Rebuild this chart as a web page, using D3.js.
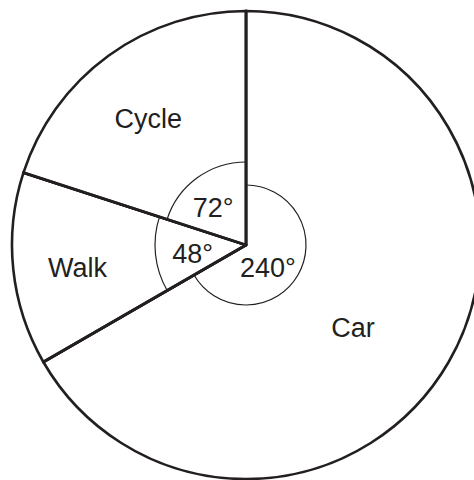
<!DOCTYPE html>
<html>
<head>
<meta charset="utf-8">
<script src="https://cdn.jsdelivr.net/npm/d3@7"></script>
<style>
  html, body { margin: 0; padding: 0; background: #fff; }
  svg { display: block; }
  text { font-family: "Liberation Sans", Arial, Helvetica, sans-serif; fill: #231f20; }
</style>
</head>
<body>
<svg></svg>
<script>
// data (slice order clockwise from the top)
const categories = ["Car", "Walk", "Cycle"];
const angles = [240, 48, 72];
const angleLabels = ["240°", "48°", "72°"];

document.addEventListener('DOMContentLoaded', function() {
    const width = 474, height = 480;
    const cx = 246, cy = 245;
    const radius = 234;

    const svg = d3.select("svg")
        .attr("width", width)
        .attr("height", height);

    const g = svg.append("g").attr("transform", `translate(${cx}, ${cy})`);

    const rows = categories.map((c, i) => ({ name: c, value: angles[i], label: angleLabels[i] }));

    const pie = d3.pie()
        .sort(null)
        .value(d => d.value);
    const arcs = pie(rows);

    const arc = d3.arc().innerRadius(0).outerRadius(radius);

    // slices
    g.selectAll(".slice")
        .data(arcs)
        .enter().append("path")
        .attr("class", "slice")
        .attr("d", arc)
        .attr("fill", "#fff")
        .attr("stroke", "#231f20")
        .attr("stroke-width", 2.6)
        .attr("stroke-linejoin", "round");

    // small angle arcs at the centre
    const markRadius = { Car: 60, Walk: 91, Cycle: 83 };
    g.selectAll(".mark")
        .data(arcs)
        .enter().append("path")
        .attr("class", "mark")
        .attr("d", d => d3.arc().innerRadius(markRadius[d.data.name]).outerRadius(markRadius[d.data.name])(d))
        .attr("fill", "none")
        .attr("stroke", "#231f20")
        .attr("stroke-width", 1.2);

    // redraw the radial lines on top
    g.selectAll(".spoke")
        .data(arcs)
        .enter().append("line")
        .attr("class", "spoke")
        .attr("x1", 0).attr("y1", 0)
        .attr("x2", d => d3.pointRadial(d.startAngle, radius)[0])
        .attr("y2", d => d3.pointRadial(d.startAngle, radius)[1])
        .attr("stroke", "#231f20")
        .attr("stroke-width", 2.8)
        .attr("stroke-linecap", "round");

    // category names: [angle offset in degrees from slice middle, radius]
    const namePos = { Car: [7.5, 135], Walk: [-1.4, 170], Cycle: [-1.7, 160] };
    const degPos = { Car: [15, 31], Walk: [-2.6, 54], Cycle: [-5, 50] };
    const mid = d => (d.startAngle + d.endAngle) / 2;
    const rad = deg => deg * Math.PI / 180;

    g.selectAll(".name")
        .data(arcs)
        .enter().append("text")
        .attr("class", "name")
        .attr("transform", d => {
            const p = d3.pointRadial(mid(d) + rad(namePos[d.data.name][0]), namePos[d.data.name][1]);
            return `translate(${p[0]}, ${p[1]})`;
        })
        .attr("text-anchor", "middle")
        .attr("dy", "0.36em")
        .style("font-size", "27px")
        .text(d => d.data.name);

    g.selectAll(".deg")
        .data(arcs)
        .enter().append("text")
        .attr("class", "deg")
        .attr("transform", d => {
            const p = d3.pointRadial(mid(d) + rad(degPos[d.data.name][0]), degPos[d.data.name][1]);
            return `translate(${p[0]}, ${p[1]})`;
        })
        .attr("text-anchor", "middle")
        .attr("dy", "0.36em")
        .style("font-size", "27px")
        .text(d => d.data.label);
});
</script>
</body>
</html>
